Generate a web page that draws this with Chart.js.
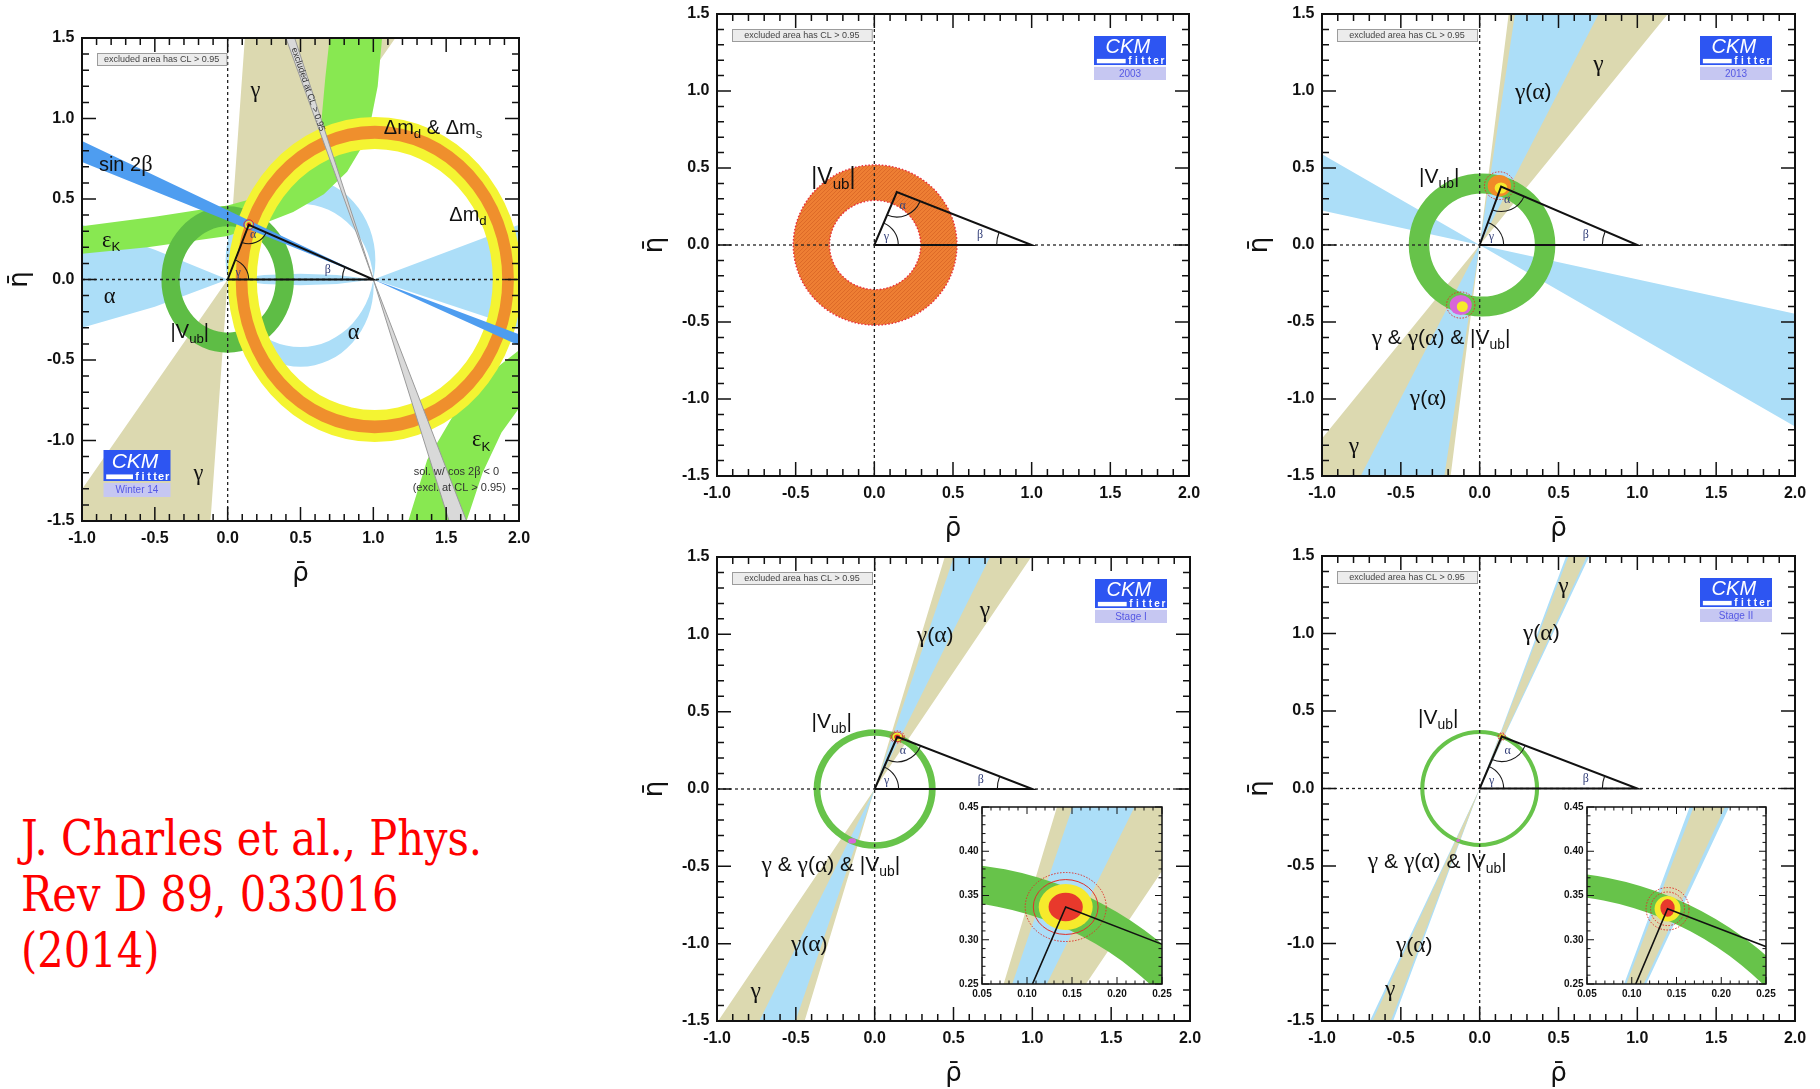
<!DOCTYPE html>
<html>
<head>
<meta charset="utf-8">
<title>CKM unitarity triangle constraints</title>
<script src="https://cdn.jsdelivr.net/npm/chart.js@4.4.1/dist/chart.umd.min.js"></script>
<style>
  html, body { margin: 0; padding: 0; background: #ffffff; }
  body { position: relative; width: 1820px; height: 1089px; overflow: hidden; }
  canvas { position: absolute; left: 0; top: 0; }
  #citation { position: absolute; left: 21px; top: 810px; margin: 0; color: #ff0000;
    font-family: 'DejaVu Serif', 'Liberation Serif', serif; font-size: 48px; line-height: 56px;
    white-space: nowrap; transform-origin: 0 0; }
  #citation .mark { display: inline-block; width: 0; height: 0; }
</style>
</head>
<body>
<div id="citation">J. Charles et al., Phys.<span class="mark" id="baseline"></span><br>Rev D 89, 033016<br>(2014)</div>
<script>
// ---------------- axes ----------------
const RHO_RANGE = [-1.0, 2.0];
const ETA_RANGE = [-1.5, 1.5];
const RHO_TICK_LABELS = ['-1.0', '-0.5', '0.0', '0.5', '1.0', '1.5', '2.0'];
const ETA_TICK_LABELS = ['-1.5', '-1.0', '-0.5', '0.0', '0.5', '1.0', '1.5'];
const ZOOM_RHO_RANGE = [0.05, 0.25];
const ZOOM_ETA_RANGE = [0.25, 0.45];
const ZOOM_RHO_TICK_LABELS = ['0.05', '0.10', '0.15', '0.20', '0.25'];
const ZOOM_ETA_TICK_LABELS = ['0.25', '0.30', '0.35', '0.40', '0.45'];

// ---------------- triangle apex (rho, eta) ----------------
const APEX_W14 = [0.145, 0.340];
const APEX_2003 = [0.143, 0.344];
const APEX_2013 = [0.136, 0.380];
const APEX_STAGE1 = [0.143, 0.337];
const APEX_STAGE2 = [0.140, 0.335];

// ---------------- rings: [rho centre, eta centre, inner radius, outer radius] ----------------
const VUB_W14 = [0.0, 0.0, 0.330, 0.455];
const DMD_W14 = [1.01, 0.0, 0.810, 1.010];
const DMS_W14 = [1.01, 0.0, 0.875, 0.955];
const VUB_2003 = [0.005, 0.0, 0.290, 0.520];
const VUB_2013 = [0.015, 0.0, 0.335, 0.465];
const VUB_STAGE1 = [0.0, 0.0, 0.344, 0.387];
const VUB_STAGE2 = [0.0, 0.0, 0.351, 0.377];

// ---------------- bands through the origin: [from, to] angle in degrees ----------------
const GAMMA_W14 = [52.5, 85.5];
const GAMMA_2013 = [51.5, 83.0];
const GAMMA_ALPHA_2013 = [63.3, 81.5];
const GAMMA_ALPHA_2013_MIRROR = [-30.5, -12.6];
const GAMMA_STAGE1 = [56.5, 73.5];
const GAMMA_ALPHA_STAGE1 = [64.0, 71.5];
const GAMMA_STAGE2 = [65.6, 69.4];
const GAMMA_ALPHA_STAGE2 = [65.1, 69.9];

// ---------------- outlined regions, [rho, eta] vertices ----------------
const EPSK_W14_UPPER = [[-1.0, 0.33], [-0.5, 0.39], [0.0, 0.46], [0.2, 0.51], [0.43, 0.63], [0.55, 0.73],
  [0.61, 0.83], [0.645, 1.0], [0.67, 1.25], [0.70, 1.5], [1.06, 1.5], [1.03, 1.2], [0.96, 0.88],
  [0.82, 0.67], [0.66, 0.53], [0.45, 0.42], [0.2, 0.33], [0.0, 0.27], [-0.55, 0.20], [-1.0, 0.16]];
const EPSK_W14_LOWER = [[1.24, -1.5], [1.37, -1.12], [1.61, -0.75], [1.80, -0.58], [2.0, -0.44],
  [2.0, -0.80], [1.88, -0.95], [1.75, -1.2], [1.64, -1.5]];
const ALPHA_W14_LEFT = [[0.0, 0.0], [-0.5, 0.185], [-1.0, 0.34], [-1.0, -0.30], [-0.5, -0.17]];
const ALPHA_W14_LENS = [[0.0, 0.0], [0.25, 0.028], [0.5, 0.036], [0.75, 0.028], [1.0, 0.0],
  [0.75, -0.028], [0.5, -0.036], [0.25, -0.028]];
const ALPHA_W14_RIGHT = [[1.0, 0.0], [2.0, 0.34], [2.0, -0.30]];
// crescents between two circles through (0,0) and (1,0): [rho centre, eta centre, radius]
const ALPHA_W14_UPPER = [[0.5, 0.12, 0.514], [0.5, -0.03, 0.501]];
const ALPHA_W14_LOWER = [[0.5, 0.0876, 0.5076], [0.5, -0.04, 0.502]];
const SIN2B_W14 = [[-1.0, 0.86], [1.0, 0.0], [2.0, -0.41], [2.0, -0.34], [1.0, 0.0], [-1.0, 0.73]];
const SIN2B_ALT_W14 = [[0.40, 1.5], [1.0, 0.0], [1.64, -1.5], [1.52, -1.5], [1.0, 0.0], [0.46, 1.5]];

// ---------------- fit contours: [rho, eta, half-width rho, half-width eta] ----------------
const FIT_W14 = [[0.145, 0.34, 0.034, 0.031], [0.145, 0.34, 0.026, 0.024], [0.145, 0.34, 0.016, 0.015]];
const FIT_2013 = [[0.125, 0.385, 0.095, 0.09], [0.125, 0.385, 0.074, 0.07], [0.135, 0.37, 0.04, 0.036]];
const FIT_2013_MIRROR = [[-0.12, -0.39, 0.09, 0.085], [-0.12, -0.39, 0.07, 0.065], [-0.11, -0.40, 0.035, 0.035]];
const FIT_STAGE1 = [[0.143, 0.337, 0.045, 0.039], [0.143, 0.337, 0.036, 0.031], [0.143, 0.337, 0.030, 0.026], [0.143, 0.337, 0.019, 0.016]];
const FIT_STAGE1_MIRROR = [[-0.143, -0.336, 0.025, 0.017]];
const FIT_STAGE2 = [[0.14, 0.335, 0.024, 0.024], [0.14, 0.335, 0.019, 0.019], [0.14, 0.335, 0.0145, 0.0145], [0.14, 0.336, 0.008, 0.010]];
const FIT_STAGE2_MIRROR = [[-0.137, -0.335, 0.012, 0.010]];

// ---------------- annotations: [text, rho, eta] ----------------
const LABELS_W14 = [['γ', 0.19, 1.17], ['Δm_d & Δm_s', 1.41, 0.94], ['sin 2β', -0.70, 0.71], ['Δm_d', 1.65, 0.40],
  ['ε_K', -0.80, 0.24], ['α', -0.81, -0.11], ['|V_{ub}|', -0.26, -0.33], ['α', 0.864, -0.33],
  ['ε_K', 1.74, -1.0], ['γ', -0.20, -1.21]];
const NOTES_W14 = [['sol. w/ cos 2β < 0', 1.57, -1.196], ['(excl. at CL > 0.95)', 1.59, -1.297]];
const BAND_NOTE_W14 = ['excluded at CL > 0.95', 0.552, 1.18];
const LABELS_2003 = [['|V_{ub}|', -0.26, 0.44]];
const LABELS_2013 = [['γ(α)', 0.34, 0.99], ['γ', 0.754, 1.17], ['|V_{ub}|', -0.256, 0.44],
  ['γ & γ(α) & |V_{ub}|', -0.245, -0.607], ['γ(α)', -0.327, -1.0], ['γ', -0.798, -1.31]];
const LABELS_STAGE1 = [['γ', 0.70, 1.15], ['γ(α)', 0.384, 0.99], ['|V_{ub}|', -0.272, 0.433],
  ['γ & γ(α) & |V_{ub}|', -0.278, -0.495], ['γ(α)', -0.415, -1.01], ['γ', -0.754, -1.31]];
const LABELS_STAGE2 = [['γ', 0.532, 1.30], ['γ(α)', 0.391, 1.0], ['|V_{ub}|', -0.263, 0.451],
  ['γ & γ(α) & |V_{ub}|', -0.269, -0.474], ['γ(α)', -0.415, -1.016], ['γ', -0.568, -1.30]];
const EXCLUDED_NOTE = 'excluded area has CL > 0.95';

// ---------------- drawing styles ----------------
const SANS = "'Liberation Sans', Arial, sans-serif";
const GREEK = "'Liberation Serif', 'DejaVu Serif', serif";
const KHAKI = '#dcd9b0', SKY = '#acdef8', EPS_GREEN = '#88e851', VUB_GREEN = '#5ebd45', VUB_GREEN2 = '#67c34a',
  YELLOW = '#f4f432', ORANGE = '#ef8f2d', SIN2B_BLUE = '#4e9df0', GREY = '#d9d9d9', RING_2003 = '#ee7e33';
const CONTOUR = { red: '#e8392c', yellow: '#f6ea2c', orange: '#f08a28', magenta: '#d866d8' };

// ---------------- helpers ----------------
function pt(chart, r, e) {
  return [chart.scales.x.getPixelForValue(r), chart.scales.y.getPixelForValue(e)];
}
function ellipsePath(ctx, chart, cx, cy, rr, re) {
  const [x, y] = pt(chart, cx, cy);
  const rx = Math.abs(chart.scales.x.getPixelForValue(cx + rr) - x);
  const ry = Math.abs(chart.scales.y.getPixelForValue(cy + re) - y);
  ctx.moveTo(x + rx, y);
  ctx.ellipse(x, y, rx, ry, 0, 0, 2 * Math.PI);
}
function tickText(labels) {
  return v => {
    for (const l of labels) if (Math.abs(parseFloat(l) - v) < 1e-6) return l;
    return '';
  };
}
function isMajor(v, labels) { return tickText(labels)(v) !== ''; }

function parseRich(s) {
  const segs = []; let cur = ''; let i = 0;
  while (i < s.length) {
    if (s[i] === '_') {
      if (cur) { segs.push({ t: cur, sub: false }); cur = ''; }
      let sub;
      if (s[i + 1] === '{') { const j = s.indexOf('}', i + 2); sub = s.slice(i + 2, j); i = j + 1; }
      else { sub = s[i + 1]; i += 2; }
      segs.push({ t: sub, sub: true });
    } else { cur += s[i]; i++; }
  }
  if (cur) segs.push({ t: cur, sub: false });
  return segs;
}
const isGreek = c => /[\u03b1-\u03c9]/.test(c);
function richRuns(s, size) {
  const out = [];
  for (const sg of parseRich(s)) {
    const sz = sg.sub ? size * 0.66 : size;
    let buf = '', g = null;
    for (const c of sg.t) {
      const cg = isGreek(c);
      if (g !== null && cg !== g) { out.push({ t: buf, greek: g, sub: sg.sub, sz }); buf = ''; }
      g = cg; buf += c;
    }
    if (buf) out.push({ t: buf, greek: g, sub: sg.sub, sz });
  }
  return out;
}
function runFont(r) {
  return r.greek ? `${(r.sz * 1.12).toFixed(1)}px ${GREEK}` : `${r.sz.toFixed(1)}px ${SANS}`;
}
function drawRich(ctx, s, x, y, size, color) {
  const rs = richRuns(s, size);
  let w = 0;
  for (const r of rs) { ctx.font = runFont(r); r.w = ctx.measureText(r.t).width; w += r.w; }
  let cx = x - w / 2;
  ctx.fillStyle = color; ctx.textAlign = 'left'; ctx.textBaseline = 'middle';
  for (const r of rs) {
    ctx.font = runFont(r);
    ctx.fillText(r.t, cx, y + (r.sub ? size * 0.33 : 0));
    cx += r.w;
  }
}

function drawLogo(ctx, x, y, w, h, caption) {
  const blue = '#2d55f2';
  const h1 = h * 0.46, h2 = h * 0.2, gap = h * 0.04;
  ctx.fillStyle = blue; ctx.fillRect(x, y, w, h1 + h2);
  ctx.fillStyle = '#ffffff';
  ctx.font = `italic ${Math.round(h1 * 0.98)}px ${SANS}`;
  ctx.textAlign = 'center'; ctx.textBaseline = 'middle';
  ctx.fillText('CKM', x + w * 0.47, y + h1 * 0.56);
  ctx.fillRect(x + w * 0.04, y + h1 + h2 * 0.3, w * 0.4, h2 * 0.5);
  ctx.font = `bold ${Math.round(h2 * 1.15)}px ${SANS}`;
  const letters = 'fitter'; const x0 = x + w * 0.5, x1 = x + w * 0.95;
  for (let i = 0; i < letters.length; i++) {
    ctx.fillText(letters[i], x0 + (x1 - x0) * i / (letters.length - 1), y + h1 + h2 * 0.52);
  }
  const y3 = y + h1 + h2 + gap, h3 = h - h1 - h2 - gap;
  ctx.fillStyle = '#c6c7f2'; ctx.fillRect(x, y3, w, h3);
  ctx.fillStyle = '#5558e4'; ctx.font = `${Math.round(h3 * 0.72)}px ${SANS}`;
  ctx.fillText(caption, x + w / 2, y3 + h3 / 2 + 0.5);
}

function drawShape(chart, s) {
  const ctx = chart.ctx, a = chart.chartArea, xs = chart.scales.x, ys = chart.scales.y;
  if (s.kind === 'wedge') {
    const D = 20, o = pt(chart, 0, 0);
    const [a1, a2] = s.angles.map(d => d * Math.PI / 180);
    ctx.beginPath();
    for (const sg of [1, -1]) {
      ctx.moveTo(o[0], o[1]);
      ctx.lineTo(...pt(chart, sg * D * Math.cos(a1), sg * D * Math.sin(a1)));
      ctx.lineTo(...pt(chart, sg * D * Math.cos(a2), sg * D * Math.sin(a2)));
      ctx.closePath();
    }
    ctx.fillStyle = s.color; ctx.fill();
  } else if (s.kind === 'ring') {
    const [cx, cy, ri, ro] = s.ring;
    ctx.beginPath();
    ellipsePath(ctx, chart, cx, cy, ro, ro);
    ellipsePath(ctx, chart, cx, cy, ri, ri);
    ctx.fillStyle = s.color; ctx.fill('evenodd');
    if (s.hatch) {
      ctx.save(); ctx.clip('evenodd');
      ctx.strokeStyle = 'rgba(190,70,20,0.35)'; ctx.lineWidth = 1;
      ctx.beginPath();
      for (let k = a.left - (a.bottom - a.top); k < a.right; k += 4) {
        ctx.moveTo(k, a.bottom); ctx.lineTo(k + (a.bottom - a.top), a.top);
      }
      ctx.stroke(); ctx.restore();
    }
    if (s.edge) {
      ctx.setLineDash([1.6, 1.8]); ctx.strokeStyle = s.edge; ctx.lineWidth = 1.4;
      ctx.beginPath(); ellipsePath(ctx, chart, cx, cy, ro, ro); ctx.stroke();
      ctx.beginPath(); ellipsePath(ctx, chart, cx, cy, ri, ri); ctx.stroke();
      ctx.setLineDash([]);
    }
  } else if (s.kind === 'lune') {
    const y0 = ys.getPixelForValue(0);
    ctx.beginPath();
    if (s.half > 0) ctx.rect(a.left, a.top, a.right - a.left, y0 - a.top);
    else ctx.rect(a.left, y0, a.right - a.left, a.bottom - y0);
    ctx.clip();
    ctx.beginPath();
    for (const c of s.circles) ellipsePath(ctx, chart, c[0], c[1], c[2], c[2]);
    ctx.fillStyle = s.color; ctx.fill('evenodd');
  } else if (s.kind === 'contours') {
    s.ellipses.forEach((e, i) => {
      const st = s.styles[i];
      ctx.beginPath(); ellipsePath(ctx, chart, e[0], e[1], e[2], e[3]);
      if (CONTOUR[st]) { ctx.fillStyle = CONTOUR[st]; ctx.fill(); }
      else {
        ctx.setLineDash(st === 'dotted' ? [1.5, 1.5] : []);
        ctx.strokeStyle = '#e0302a'; ctx.lineWidth = 1; ctx.stroke(); ctx.setLineDash([]);
      }
    });
  } else if (s.kind === 'angles') {
    const O = pt(chart, 0, 0), B = pt(chart, 1, 0), A = pt(chart, s.apex[0], s.apex[1]);
    const arcs = [[O, B, A, s.radii[0], 'γ', 0.6], [A, O, B, s.radii[1], 'α', 0.6], [B, A, O, s.radii[2], 'β', 1.5]];
    ctx.strokeStyle = '#1a1a1a'; ctx.lineWidth = 1.1;
    for (const [P, U, V, r, lab, f] of arcs) {
      const a1 = Math.atan2(U[1] - P[1], U[0] - P[0]);
      let d = Math.atan2(V[1] - P[1], V[0] - P[0]) - a1;
      while (d > Math.PI) d -= 2 * Math.PI;
      while (d < -Math.PI) d += 2 * Math.PI;
      ctx.beginPath(); ctx.arc(P[0], P[1], r, a1, a1 + d, d < 0); ctx.stroke();
      const m = a1 + d / 2;
      ctx.font = `${s.font}px ${GREEK}`; ctx.fillStyle = '#34407a';
      ctx.textAlign = 'center'; ctx.textBaseline = 'middle';
      ctx.fillText(lab, P[0] + Math.cos(m) * r * f, P[1] + Math.sin(m) * r * f);
    }
  }
}

// ---------------- dataset builders ----------------
const xy = pts => pts.map(p => ({ x: p[0], y: p[1] }));
function region(points, color) {
  return { data: xy(points), showLine: true, fill: 'shape', backgroundColor: color,
    borderColor: 'rgba(0,0,0,0)', borderWidth: 0, pointRadius: 0, pointHoverRadius: 0, tension: 0 };
}
function polyline(points, color, width, dash) {
  return { data: xy(points), showLine: true, fill: false, borderColor: color, borderWidth: width,
    borderDash: dash || [], pointRadius: 0, pointHoverRadius: 0, tension: 0, backgroundColor: color };
}
function shape(s) { return { data: [], shape: s, pointRadius: 0 }; }
function layered(list) { list.forEach((d, i) => { d.order = list.length - i; }); return list; }
function axesLines() {
  return [polyline([[0, ETA_RANGE[0]], [0, ETA_RANGE[1]]], '#222', 1.3, [3, 3]),
          polyline([[RHO_RANGE[0], 0], [RHO_RANGE[1], 0]], '#222', 1.3, [3, 3])];
}
function triangle(apex, width) { return polyline([[0, 0], [1, 0], apex, [0, 0]], '#111', width); }

// ---------------- chart factory ----------------
function makePlugin(cfg) {
  return {
    id: 'ckmDecor',
    beforeDraw(chart) {
      if (!cfg.zoom) return;
      const a = chart.chartArea, ctx = chart.ctx;
      ctx.save(); ctx.fillStyle = '#ffffff';
      ctx.fillRect(a.left, a.top, a.right - a.left, a.bottom - a.top); ctx.restore();
    },
    beforeDatasetDraw(chart, args) {
      const ds = chart.data.datasets[args.index];
      if (!ds.shape) return;
      const a = chart.chartArea, ctx = chart.ctx;
      ctx.save(); ctx.beginPath(); ctx.rect(a.left, a.top, a.right - a.left, a.bottom - a.top); ctx.clip();
      drawShape(chart, ds.shape);
      ctx.restore();
    },
    afterDatasetsDraw(chart) {
      const a = chart.chartArea, ctx = chart.ctx;
      ctx.save(); ctx.beginPath(); ctx.rect(a.left, a.top, a.right - a.left, a.bottom - a.top); ctx.clip();
      for (const [t, r, e] of (cfg.labels || [])) {
        const [x, y] = pt(chart, r, e); drawRich(ctx, t, x, y, cfg.labelSize, '#111');
      }
      for (const [t, r, e] of (cfg.notes || [])) {
        const [x, y] = pt(chart, r, e); drawRich(ctx, t, x, y, 11, '#333');
      }
      if (cfg.bandNote) {
        const [t, r, e] = cfg.bandNote, b = cfg.bandPoints;
        const p0 = pt(chart, (b[0][0] + b[5][0]) / 2, b[0][1]), p1 = pt(chart, b[1][0], b[1][1]);
        const [x, y] = pt(chart, r, e);
        ctx.save(); ctx.translate(x, y); ctx.rotate(Math.atan2(p1[1] - p0[1], p1[0] - p0[0]));
        ctx.font = `9px ${SANS}`; ctx.fillStyle = '#333'; ctx.textAlign = 'center'; ctx.textBaseline = 'middle';
        ctx.fillText(t, 0, 0); ctx.restore();
      }
      if (cfg.excludedBox) {
        const w = (a.right - a.left) * 0.296, x = a.left + 15, y = a.top + 15, h = 12;
        ctx.fillStyle = '#ececec'; ctx.fillRect(x, y, w, h);
        ctx.strokeStyle = '#9c9c9c'; ctx.lineWidth = 1; ctx.strokeRect(x + 0.5, y + 0.5, w, h);
        ctx.fillStyle = '#444'; ctx.textAlign = 'center'; ctx.textBaseline = 'middle';
        let fs = 9; ctx.font = `${fs}px ${SANS}`;
        while (ctx.measureText(EXCLUDED_NOTE).width > w - 8 && fs > 6) { fs -= 0.25; ctx.font = `${fs}px ${SANS}`; }
        ctx.fillText(EXCLUDED_NOTE, x + w / 2, y + h / 2 + 0.5);
      }
      if (cfg.logo) {
        const lg = cfg.logo;
        if (lg.corner === 'bl') drawLogo(ctx, a.left + 21.5, a.bottom - 71, 67, 47, lg.caption);
        else drawLogo(ctx, a.right - 95, a.top + 22, 72, 44, lg.caption);
      }
      ctx.restore();
    },
    afterDraw(chart) {
      const ctx = chart.ctx, a = chart.chartArea, xs = chart.scales.x, ys = chart.scales.y;
      ctx.save(); ctx.strokeStyle = '#111'; ctx.lineWidth = cfg.tickWidth; ctx.beginPath();
      for (const t of xs.ticks) {
        const p = xs.getPixelForValue(t.value), len = isMajor(t.value, cfg.xLabels) ? cfg.major : cfg.minor;
        ctx.moveTo(p, a.bottom); ctx.lineTo(p, a.bottom - len);
        ctx.moveTo(p, a.top); ctx.lineTo(p, a.top + len);
      }
      for (const t of ys.ticks) {
        const p = ys.getPixelForValue(t.value), len = isMajor(t.value, cfg.yLabels) ? cfg.major : cfg.minor;
        ctx.moveTo(a.left, p); ctx.lineTo(a.left + len, p);
        ctx.moveTo(a.right, p); ctx.lineTo(a.right - len, p);
      }
      ctx.stroke();
      ctx.lineWidth = cfg.frameWidth;
      ctx.strokeRect(a.left, a.top, a.right - a.left, a.bottom - a.top);
      ctx.restore();
    }
  };
}

function axis(range, labels, step, font, pad, size, title, horizontal) {
  const o = {
    type: 'linear', min: range[0], max: range[1],
    ticks: { stepSize: step, autoSkip: false, maxRotation: 0, minRotation: 0, padding: pad,
      font: { family: SANS, size: font, weight: 'bold' }, color: '#111', callback: tickText(labels) },
    grid: { display: false, drawTicks: false }, border: { display: false },
    title: { display: !!title, text: title || '', color: '#111', padding: 0,
      font: { family: "'DejaVu Sans', sans-serif", size: 26 } }
  };
  o.afterFit = horizontal ? (s => { s.height = size; }) : (s => { s.width = size; });
  return o;
}

function placeChart(chart, cv, rect) {
  const [L, T, R, B] = rect;
  for (let k = 0; k < 4; k++) {
    const a = chart.chartArea;
    const dw = (R - L) - (a.right - a.left), dh = (B - T) - (a.bottom - a.top);
    if (Math.abs(dw) < 0.01 && Math.abs(dh) < 0.01) break;
    chart.resize(Math.round(chart.width + dw), Math.round(chart.height + dh));
  }
  const a = chart.chartArea;
  cv.style.left = (L - a.left) + 'px';
  cv.style.top = (T - a.top) + 'px';
}

function makeChart(rect, datasets, cfg) {
  const cv = document.createElement('canvas');
  document.body.appendChild(cv);
  cv.width = rect[2] - rect[0] + 120; cv.height = rect[3] - rect[1] + 100;
  const zoom = !!cfg.zoom;
  cfg.xLabels = zoom ? ZOOM_RHO_TICK_LABELS : RHO_TICK_LABELS;
  cfg.yLabels = zoom ? ZOOM_ETA_TICK_LABELS : ETA_TICK_LABELS;
  cfg.major = zoom ? 7 : 14; cfg.minor = zoom ? 3.5 : 7;
  cfg.tickWidth = zoom ? 1 : 1.5; cfg.frameWidth = zoom ? 1.5 : 2;
  const scales = zoom ? {
    x: axis(ZOOM_RHO_RANGE, ZOOM_RHO_TICK_LABELS, 0.01, 10, 4, 22, null, true),
    y: axis(ZOOM_ETA_RANGE, ZOOM_ETA_TICK_LABELS, 0.01, 10, 3.5, 34, null, false)
  } : {
    x: axis(RHO_RANGE, RHO_TICK_LABELS, 0.1, 16, 8.4, 69, 'ρ\u0304', true),
    y: axis(ETA_RANGE, ETA_TICK_LABELS, 0.1, 16, 7.5, 77, 'η\u0304', false)
  };
  const chart = new Chart(cv, {
    type: 'scatter',
    data: { datasets: layered(datasets) },
    options: {
      responsive: false, maintainAspectRatio: false, animation: false, devicePixelRatio: 1, events: [],
      layout: { padding: { top: 18, right: 26, left: 4, bottom: 4 } },
      plugins: { legend: { display: false }, tooltip: { enabled: false } },
      scales
    },
    plugins: [makePlugin(cfg)]
  });
  placeChart(chart, cv, rect);
  return chart;
}

// ---------------- panels ----------------
makeChart([82, 38, 519, 521], [
  shape({ kind: 'wedge', angles: GAMMA_W14, color: KHAKI }),
  region(ALPHA_W14_LEFT, SKY), region(ALPHA_W14_LENS, SKY), region(ALPHA_W14_RIGHT, SKY),
  shape({ kind: 'lune', circles: ALPHA_W14_UPPER, half: 1, color: SKY }),
  shape({ kind: 'lune', circles: ALPHA_W14_LOWER, half: -1, color: SKY }),
  region(EPSK_W14_UPPER, EPS_GREEN), region(EPSK_W14_LOWER, EPS_GREEN),
  shape({ kind: 'ring', ring: VUB_W14, color: VUB_GREEN }),
  shape({ kind: 'ring', ring: DMD_W14, color: YELLOW }),
  shape({ kind: 'ring', ring: DMS_W14, color: ORANGE }),
  region(SIN2B_W14, SIN2B_BLUE),
  region(SIN2B_ALT_W14, GREY),
  polyline([SIN2B_ALT_W14[0], SIN2B_ALT_W14[1], SIN2B_ALT_W14[2]], '#9a9a9a', 1),
  polyline([SIN2B_ALT_W14[5], SIN2B_ALT_W14[4], SIN2B_ALT_W14[3]], '#9a9a9a', 1),
  ...axesLines(),
  shape({ kind: 'contours', ellipses: FIT_W14, styles: ['line', 'yellow', 'red'] }),
  triangle(APEX_W14, 2),
  shape({ kind: 'angles', apex: APEX_W14, radii: [21, 19, 31], font: 12 })
], { labels: LABELS_W14, labelSize: 20, notes: NOTES_W14, bandNote: BAND_NOTE_W14, bandPoints: SIN2B_ALT_W14,
     excludedBox: true, logo: { caption: 'Winter 14', corner: 'bl' } });

makeChart([717, 14, 1189, 476], [
  shape({ kind: 'ring', ring: VUB_2003, color: RING_2003, hatch: true, edge: '#e8323c' }),
  ...axesLines(),
  triangle(APEX_2003, 2),
  shape({ kind: 'angles', apex: APEX_2003, radii: [24, 25, 35], font: 12 })
], { labels: LABELS_2003, labelSize: 23, excludedBox: true, logo: { caption: '2003', corner: 'tr' } });

makeChart([1322, 14, 1795, 476], [
  shape({ kind: 'wedge', angles: GAMMA_2013, color: KHAKI }),
  shape({ kind: 'wedge', angles: GAMMA_ALPHA_2013, color: SKY }),
  shape({ kind: 'wedge', angles: GAMMA_ALPHA_2013_MIRROR, color: SKY }),
  shape({ kind: 'ring', ring: VUB_2013, color: VUB_GREEN2 }),
  ...axesLines(),
  shape({ kind: 'contours', ellipses: FIT_2013, styles: ['dotted', 'orange', 'yellow'] }),
  shape({ kind: 'contours', ellipses: FIT_2013_MIRROR, styles: ['dotted', 'magenta', 'yellow'] }),
  triangle(APEX_2013, 2),
  shape({ kind: 'angles', apex: APEX_2013, radii: [24, 25, 35], font: 12 })
], { labels: LABELS_2013, labelSize: 21, excludedBox: true, logo: { caption: '2013', corner: 'tr' } });

makeChart([717, 557, 1190, 1021], [
  shape({ kind: 'wedge', angles: GAMMA_STAGE1, color: KHAKI }),
  shape({ kind: 'wedge', angles: GAMMA_ALPHA_STAGE1, color: SKY }),
  shape({ kind: 'ring', ring: VUB_STAGE1, color: VUB_GREEN2 }),
  ...axesLines(),
  shape({ kind: 'contours', ellipses: FIT_STAGE1, styles: ['dotted', 'line', 'yellow', 'red'] }),
  shape({ kind: 'contours', ellipses: FIT_STAGE1_MIRROR, styles: ['magenta'] }),
  triangle(APEX_STAGE1, 2),
  shape({ kind: 'angles', apex: APEX_STAGE1, radii: [24, 25, 35], font: 12 })
], { labels: LABELS_STAGE1, labelSize: 21, excludedBox: true, logo: { caption: 'Stage I', corner: 'tr' } });

makeChart([1322, 556, 1795, 1021], [
  shape({ kind: 'wedge', angles: GAMMA_ALPHA_STAGE2, color: SKY }),
  shape({ kind: 'wedge', angles: GAMMA_STAGE2, color: KHAKI }),
  shape({ kind: 'ring', ring: VUB_STAGE2, color: VUB_GREEN2 }),
  ...axesLines(),
  shape({ kind: 'contours', ellipses: FIT_STAGE2, styles: ['dotted', 'dotted', 'yellow', 'red'] }),
  shape({ kind: 'contours', ellipses: FIT_STAGE2_MIRROR, styles: ['magenta'] }),
  triangle(APEX_STAGE2, 2),
  shape({ kind: 'angles', apex: APEX_STAGE2, radii: [24, 25, 35], font: 12 })
], { labels: LABELS_STAGE2, labelSize: 21, excludedBox: true, logo: { caption: 'Stage II', corner: 'tr' } });

// zoomed views around the apex
makeChart([982, 807, 1162, 984], [
  shape({ kind: 'wedge', angles: GAMMA_STAGE1, color: KHAKI }),
  shape({ kind: 'wedge', angles: GAMMA_ALPHA_STAGE1, color: SKY }),
  shape({ kind: 'ring', ring: VUB_STAGE1, color: VUB_GREEN2 }),
  shape({ kind: 'contours', ellipses: FIT_STAGE1, styles: ['dotted', 'line', 'yellow', 'red'] }),
  triangle(APEX_STAGE1, 1.6)
], { zoom: true });

makeChart([1587, 807, 1766, 984], [
  shape({ kind: 'wedge', angles: GAMMA_ALPHA_STAGE2, color: SKY }),
  shape({ kind: 'wedge', angles: GAMMA_STAGE2, color: KHAKI }),
  shape({ kind: 'ring', ring: VUB_STAGE2, color: VUB_GREEN2 }),
  shape({ kind: 'contours', ellipses: FIT_STAGE2, styles: ['dotted', 'dotted', 'yellow', 'red'] }),
  triangle(APEX_STAGE2, 1.6)
], { zoom: true });

// ---------------- citation text ----------------
(function () {
  const el = document.getElementById('citation');
  const m = document.createElement('canvas').getContext('2d');
  m.font = "48px 'DejaVu Serif'";
  const w = m.measureText('J. Charles et al., Phys.').width;
  el.style.transform = `scaleX(${(461 / w).toFixed(4)})`;
  const base = document.getElementById('baseline').getBoundingClientRect().top;
  el.style.top = (810 + (855 - base)) + 'px';
})();
</script>
</body>
</html>
